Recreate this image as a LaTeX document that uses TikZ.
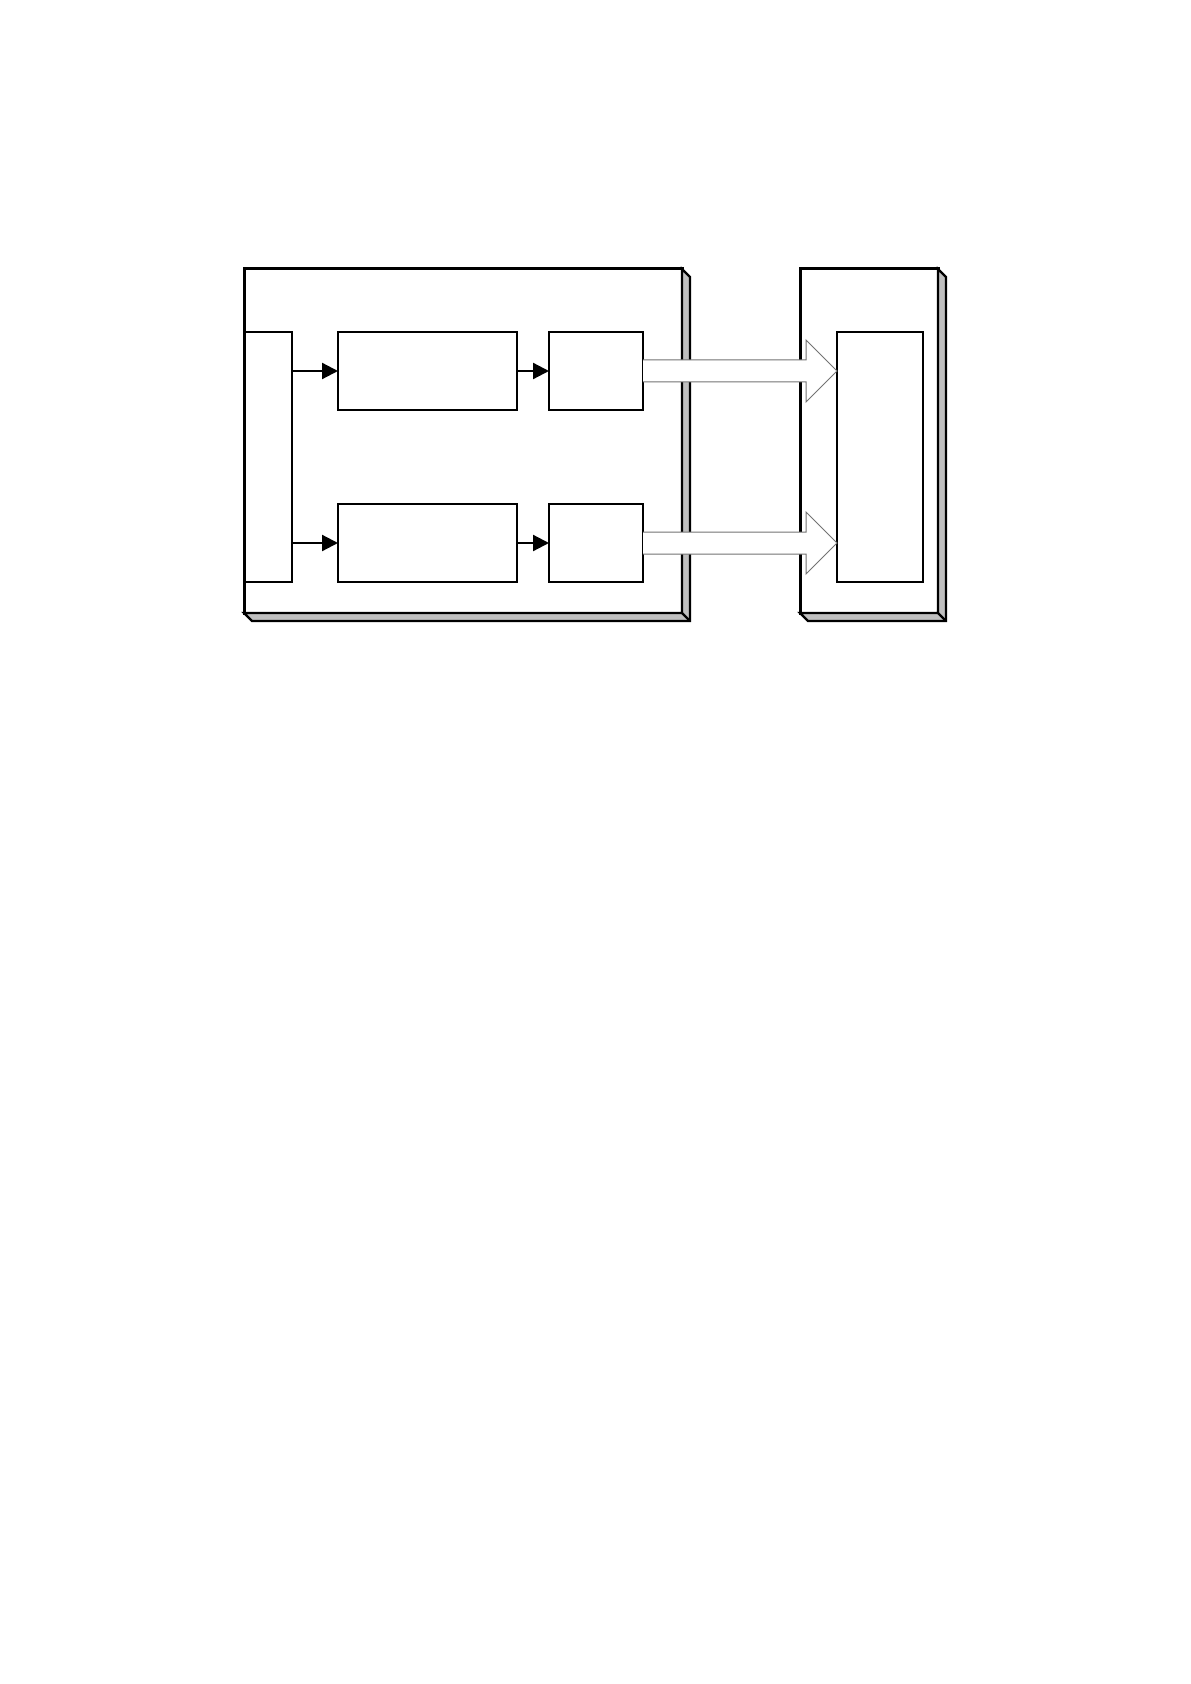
\documentclass[tikz,border=0pt]{standalone}
\usetikzlibrary{arrows.meta,calc}

\begin{document}
\begin{tikzpicture}[x=0.5pt,y=-0.5pt,every node/.style={inner sep=0pt,outer sep=0pt},>={Triangle[length=8pt,width=8pt]},
box/.style={draw,fill=white,line width=0.6pt},
frame/.style={draw,fill=white,line width=1.5pt},
shade3d/.style={draw,fill=black!25,line width=1.2pt,line join=miter},
flow/.style={->,line width=1.1pt},
bigarrow/.style={draw=black!55,fill=white,line width=0.5pt,line join=miter}]
\useasboundingbox (0,0) rectangle (1190,1684);
\node[frame,minimum width=219pt,minimum height=172pt](outer1)at(463,441){};
\node[frame,minimum width=69pt,minimum height=172pt](outer2)at(869,441){};
\foreach \b in {outer1,outer2}
{
\draw[shade3d](\b.north east)--++(4pt,-4pt)|-([shift={(4pt,-4pt)}]\b.south west)--(\b.south west)--(\b.south east)--cycle;
\draw[line width=1.2pt](\b.south east)--++(4pt,-4pt);
}
\node[box,minimum width=23.5pt,minimum height=125pt](src)at(268.5,457){};
\node[box,minimum width=89.5pt,minimum height=39pt](procA)at(427.5,371){};
\node[box,minimum width=89.5pt,minimum height=39pt](procB)at(427.5,543){};
\node[box,minimum width=47pt,minimum height=39pt](outA)at(596,371){};
\node[box,minimum width=47pt,minimum height=39pt](outB)at(596,543){};
\node[box,minimum width=43pt,minimum height=125pt](sink)at(880,457){};
\foreach \r in {A,B}
{
\draw[flow](src.east|-proc\r.west)--(proc\r.west);
\draw[flow](proc\r.east)--(out\r.west);
\coordinate(tip\r)at(sink.west|-out\r.east);
\draw[bigarrow]($(out\r.east)+(0,-11)$)--($(tip\r)+(-31,-11)$)--($(tip\r)+(-31,-31)$)--(tip\r)
 --($(tip\r)+(-31,31)$)--($(tip\r)+(-31,11)$)--($(out\r.east)+(0,11)$);
}
\end{tikzpicture}
\end{document}
